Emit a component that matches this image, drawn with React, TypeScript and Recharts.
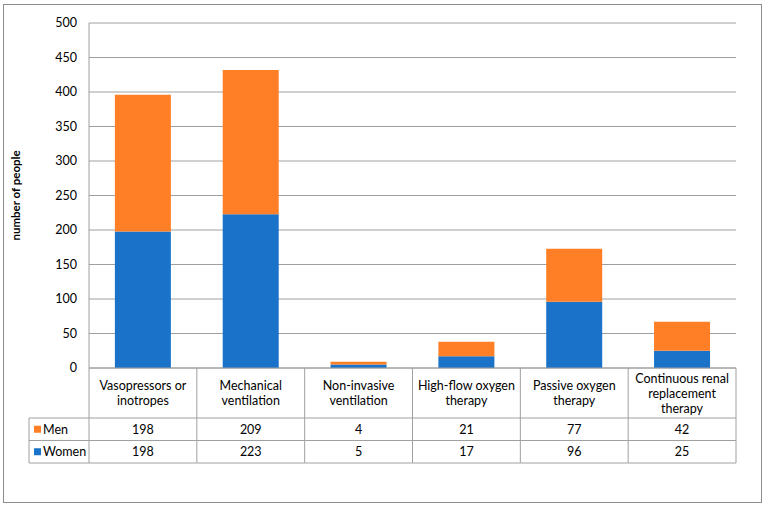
import React from "react";
import { BarChart, Bar, XAxis, YAxis, CartesianGrid } from "recharts";

// Treatment categories and counts by sex
const categories: string[][] = [
  ["Vasopressors or", "inotropes"],
  ["Mechanical", "ventilation"],
  ["Non-invasive", "ventilation"],
  ["High-flow oxygen", "therapy"],
  ["Passive oxygen", "therapy"],
  ["Continuous renal", "replacement", "therapy"],
];
const men = [198, 209, 4, 21, 77, 42];
const women = [198, 223, 5, 17, 96, 25];
const yTicks = [0, 50, 100, 150, 200, 250, 300, 350, 400, 450, 500];

const MEN_COLOR = "#FF7F27";
const WOMEN_COLOR = "#1A73C9";
const LINE_COLOR = "#A0A0A0";
const FONT = "Lato, 'Open Sans', sans-serif";

const W = 768;
const H = 510;
const Y_AXIS_W = 89;
const MARGIN = { top: 23, right: 32, left: 0, bottom: 0 };
const TABLE_H = 142;
const HEADER_H = 50;
const ROW_H = 22.5;
const LEGEND_COL_LEFT = 29;
const BAND = (W - Y_AXIS_W - MARGIN.right) / categories.length;

const data = categories.map((lines, i) => ({
  name: lines.join(" "),
  lines,
  men: men[i],
  women: women[i],
}));

// Each x-axis tick draws one column of the data table under the plot
const TableTick = (props: any) => {
  const { x, y, index } = props;
  const d = data[index];
  const left = x - BAND / 2;
  const right = x + BAND / 2;
  const rowMen = y + HEADER_H;
  const rowWomen = rowMen + ROW_H;
  const bottom = rowWomen + ROW_H;
  const lineH = 15;
  const firstLine = y + HEADER_H / 2 - ((d.lines.length - 1) * lineH) / 2;
  return (
    <g fontFamily={FONT} fontSize={12.5} fill="#000">
      {index === 0 && (
        <g>
          <line x1={LEGEND_COL_LEFT} x2={left} y1={rowMen} y2={rowMen} stroke={LINE_COLOR} />
          <line x1={LEGEND_COL_LEFT} x2={left} y1={rowWomen} y2={rowWomen} stroke={LINE_COLOR} />
          <line x1={LEGEND_COL_LEFT} x2={left} y1={bottom} y2={bottom} stroke={LINE_COLOR} />
          <line x1={LEGEND_COL_LEFT} x2={LEGEND_COL_LEFT} y1={rowMen} y2={bottom} stroke={LINE_COLOR} />
          <line x1={left} x2={left} y1={y} y2={bottom} stroke={LINE_COLOR} />
          <rect x={LEGEND_COL_LEFT + 5} y={rowMen + ROW_H / 2 - 3.5} width={7} height={7} fill={MEN_COLOR} />
          <text x={LEGEND_COL_LEFT + 14} y={rowMen + ROW_H / 2} dominantBaseline="central" fill="#000">
            Men
          </text>
          <rect x={LEGEND_COL_LEFT + 5} y={rowWomen + ROW_H / 2 - 3.5} width={7} height={7} fill={WOMEN_COLOR} />
          <text x={LEGEND_COL_LEFT + 14} y={rowWomen + ROW_H / 2} dominantBaseline="central" fill="#000">
            Women
          </text>
        </g>
      )}
      <line x1={right} x2={right} y1={y} y2={bottom} stroke={LINE_COLOR} />
      <line x1={left} x2={right} y1={rowMen} y2={rowMen} stroke={LINE_COLOR} />
      <line x1={left} x2={right} y1={rowWomen} y2={rowWomen} stroke={LINE_COLOR} />
      <line x1={left} x2={right} y1={bottom} y2={bottom} stroke={LINE_COLOR} />
      {d.lines.map((t: string, k: number) => (
        <text key={k} x={x} y={firstLine + k * lineH} textAnchor="middle" dominantBaseline="central" fill="#000">
          {t}
        </text>
      ))}
      <text x={x} y={rowMen + ROW_H / 2} textAnchor="middle" dominantBaseline="central" fill="#000">
        {d.men}
      </text>
      <text x={x} y={rowWomen + ROW_H / 2} textAnchor="middle" dominantBaseline="central" fill="#000">
        {d.women}
      </text>
    </g>
  );
};

export default function App() {
  return (
    <div style={{ position: "absolute", left: 0, top: 0, width: W, height: H, background: "#fff" }}>
      <div
        style={{
          position: "absolute",
          left: 3,
          top: 4,
          width: 759,
          height: 499,
          border: "1px solid #8C8C8C",
          boxSizing: "border-box",
        }}
      />
      <BarChart
        width={W}
        height={H}
        data={data}
        margin={MARGIN}
        barCategoryGap="24%"
        style={{ position: "absolute", left: 0, top: 0 }}
      >
        <CartesianGrid vertical={false} stroke={LINE_COLOR} strokeWidth={1} />
        <XAxis
          dataKey="name"
          height={TABLE_H}
          tickLine={false}
          tickSize={0}
          tickMargin={0}
          interval={0}
          axisLine={{ stroke: LINE_COLOR }}
          tick={<TableTick />}
        />
        <YAxis
          width={Y_AXIS_W}
          domain={[0, 500]}
          ticks={yTicks}
          interval={0}
          tickLine={false}
          tickMargin={6}
          axisLine={{ stroke: LINE_COLOR }}
          tick={{ fontFamily: FONT, fontSize: 12.5, fill: "#000" }}
          label={{
            value: "number of people",
            angle: -90,
            position: "insideLeft",
            offset: 16,
            style: { fontFamily: FONT, fontSize: 11.5, fontWeight: "bold", fill: "#000", textAnchor: "middle" },
          }}
        />
        <Bar dataKey="women" stackId="a" fill={WOMEN_COLOR} isAnimationActive={false} />
        <Bar dataKey="men" stackId="a" fill={MEN_COLOR} isAnimationActive={false} />
      </BarChart>
    </div>
  );
}
